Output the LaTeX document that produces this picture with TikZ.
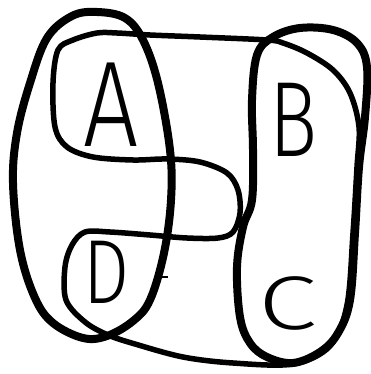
\documentclass[tikz,border=0pt]{standalone}
\usepackage{fontspec}
\newfontfamily\hand{Fira Sans Light}
\begin{document}
\begin{tikzpicture}[x=1pt,y=-1pt,
  thickloop/.style={line width=8pt,line join=round,line cap=round},
  thinloop/.style={line width=5.5pt,line join=round,line cap=round},
  letter/.style={inner sep=0pt,anchor=center}]
\useasboundingbox (0,0) rectangle (370,374);
% left oval (A, D)
\draw[thickloop] plot[smooth cycle,tension=0.6] coordinates {
 (97,12) (125,18) (143,40) (158,83) (170,150) (171,200) (164,253) (150,300)
 (133,321) (107,336) (83,338) (53,323) (35,298) (20,250) (13,183) (17,133)
 (30,83) (47,38) (72,16)};
% right oval (B, C)
\draw[thickloop] plot[smooth cycle,tension=0.6] coordinates {
 (300,28) (333,30) (357,43) (367,67) (365,117) (359,167) (355,233) (350,300)
 (338,333) (320,352) (293,363) (267,357) (250,343) (240,317) (237,267)
 (243,227) (252,200) (253,150) (252,100) (257,55) (273,37)};
% snake loop
\draw[thinloop] plot[smooth cycle,tension=0.55] coordinates {
 (97,33) (73,40) (58,50) (53,83) (55,127) (67,147) (93,157) (133,160)
 (167,159) (200,162) (227,173) (238,190) (240,213) (233,232) (218,238)
 (187,238) (150,235) (110,232) (85,232) (72,245) (65,267) (66,300) (85,322)
 (108,335) (135,344) (183,357) (233,363) (293,364) (330,346) (347,305)
 (353,233) (357,167) (359,127) (350,93) (333,70) (307,53) (283,43) (267,40)
 (200,37) (150,35) (117,33)};
% small tick
\draw[line width=1.2pt] (158,277) -- (168,277);
% letters
\node[letter,xscale=0.8] (A) at (111,105) {\hand\fontsize{122}{122}\selectfont A};
\node[letter,xscale=0.75] (B) at (293,120) {\hand\fontsize{107}{107}\selectfont B};
\node[letter,xscale=1.4] (C) at (288,303) {\hand\fontsize{76}{76}\selectfont C};
\node[letter,xscale=0.8] (D) at (107,272) {\hand\fontsize{91}{91}\selectfont D};
\end{tikzpicture}
\end{document}
